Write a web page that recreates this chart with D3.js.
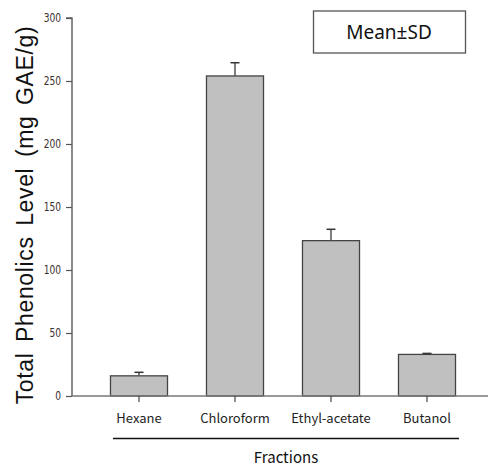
<!DOCTYPE html>
<html>
<head>
<meta charset="utf-8">
<script src="https://cdn.jsdelivr.net/npm/d3@7"></script>
<style>
  html, body { margin: 0; padding: 0; background: #fff; }
  svg { display: block; }
</style>
</head>
<body>
<svg id="chart" width="489" height="467"></svg>
<script>
const categories = ["Hexane", "Chloroform", "Ethyl-acetate", "Butanol"];
const means = [16, 254, 123.3, 33];
const sds = [2.8, 10.5, 9, 0.8];
const yTicks = [0, 50, 100, 150, 200, 250, 300];
const yTitle = "Total Phenolics Level (mg GAE/g)";
const xTitle = "Fractions";
const legendText = "Mean±SD";

const svg = d3.select("#chart");
const axisX = 72, y0 = 396, yTop = 18;

const x = d3.scaleBand().domain(categories).range([91, 475]).paddingInner(0.406).paddingOuter(0.203);
const y = d3.scaleLinear().domain([0, 300]).range([y0, yTop]);

// bars
const g = svg.append("g");
g.selectAll("rect.bar").data(categories).join("rect")
  .attr("class", "bar")
  .attr("x", d => x(d))
  .attr("y", (d, i) => y(means[i]))
  .attr("width", x.bandwidth())
  .attr("height", (d, i) => y0 - y(means[i]))
  .attr("fill", "#c0c0c0")
  .attr("stroke", "#444")
  .attr("stroke-width", 1.3);

// error bars (upper only)
categories.forEach((c, i) => {
  const cx = x(c) + x.bandwidth() / 2;
  g.append("line").attr("x1", cx).attr("x2", cx)
    .attr("y1", y(means[i])).attr("y2", y(means[i] + sds[i]))
    .attr("stroke", "#555").attr("stroke-width", 1.5);
  g.append("line").attr("x1", cx - 4.5).attr("x2", cx + 4.5)
    .attr("y1", y(means[i] + sds[i])).attr("y2", y(means[i] + sds[i]))
    .attr("stroke", "#333").attr("stroke-width", 1.5);
});

// y axis
const yAxis = d3.axisLeft(y).tickValues(yTicks).tickSize(6).tickPadding(5);
const ya = svg.append("g").attr("transform", `translate(${axisX},0)`).call(yAxis);
ya.select(".domain").attr("stroke", "#666").attr("stroke-width", 1.5).attr("d", `M-6,${yTop}H0V${y0}`);
ya.selectAll(".tick line").attr("stroke", "#555").attr("stroke-width", 1.2);
ya.selectAll(".tick text").attr("fill", "#3a3030")
  .style("font-family", "'DejaVu Sans Condensed', 'Liberation Sans Narrow', sans-serif")
  .style("font-size", "11px")
  .attr("transform", "scale(0.92,1.08)")
  .attr("x", -11 / 0.92);

// x axis
const xAxis = d3.axisBottom(x).tickSize(6).tickPadding(12).tickSizeOuter(0);
const xa = svg.append("g").attr("transform", `translate(0,${y0})`).call(xAxis);
xa.select(".domain").attr("d", `M${axisX},0H488`).attr("stroke", "#777").attr("stroke-width", 1.6);
xa.selectAll(".tick line").attr("stroke", "#444").attr("stroke-width", 1.2);
xa.selectAll(".tick text").attr("fill", "#222")
  .style("font-family", "'Noto Sans CJK KR', 'Noto Sans', sans-serif")
  .style("font-size", "13px");

// underline for category group
svg.append("line").attr("x1", 113).attr("x2", 459).attr("y1", 438.5).attr("y2", 438.5)
  .attr("stroke", "#111").attr("stroke-width", 1.6);
svg.append("text").attr("x", (113 + 459) / 2).attr("y", 463)
  .attr("text-anchor", "middle").attr("fill", "#111")
  .style("font-family", "'Noto Sans CJK KR', 'Noto Sans', sans-serif")
  .style("font-size", "15px").text(xTitle);

// y title
svg.append("text")
  .attr("transform", `translate(33,215) rotate(-90)`)
  .attr("text-anchor", "middle").attr("fill", "#111")
  .style("font-family", "'Liberation Sans', Arial, sans-serif")
  .style("font-size", "23px")
  .style("letter-spacing", "0.65px")
  .style("word-spacing", "3.5px")
  .text(yTitle);

// legend
svg.append("rect").attr("x", 313.5).attr("y", 11).attr("width", 152).attr("height", 42)
  .attr("fill", "#fff").attr("stroke", "#555").attr("stroke-width", 1.3);
svg.append("text").attr("x", 389).attr("y", 39).attr("text-anchor", "middle").attr("fill", "#111")
  .style("font-family", "'Noto Sans', sans-serif")
  .style("font-size", "19px").text(legendText);
</script>
</body>
</html>
